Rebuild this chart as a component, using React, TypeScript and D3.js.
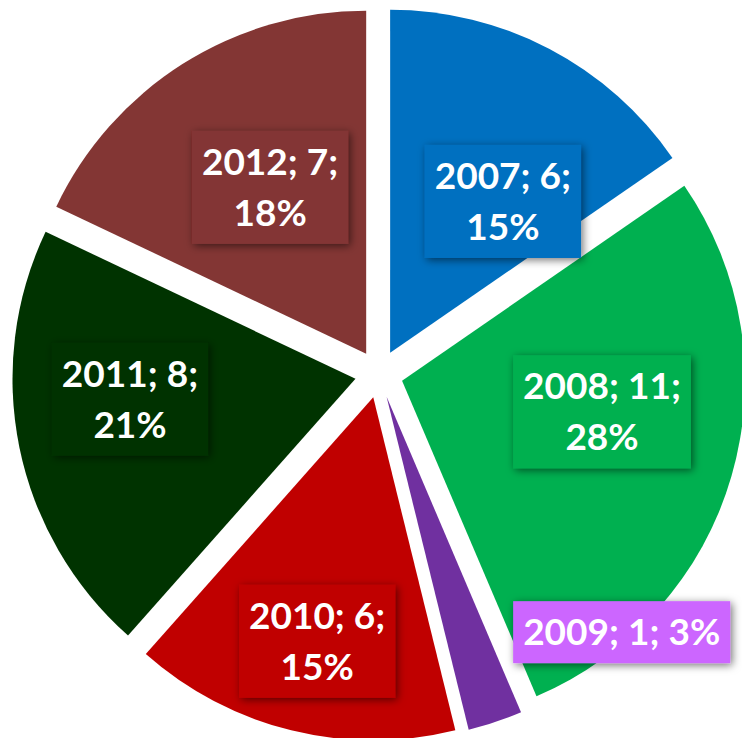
import { useEffect, useRef } from 'react';
import * as d3 from 'd3';

const years = ['2007', '2008', '2009', '2010', '2011', '2012'];
const counts = [6, 11, 1, 6, 8, 7];
const sliceColors = ['#0070C0', '#00B050', '#7030A0', '#C00000', '#003300', '#833634'];
const labelColors = ['#0070C0', '#00B050', '#CC66FF', '#C00000', '#003300', '#833634'];

const width = 742;
const height = 738;

export default function App() {
    const svgRef = useRef<SVGSVGElement>(null);

    useEffect(() => {
        if (!svgRef.current) return;
        const svg = d3.select(svgRef.current);
        svg.selectAll('*').remove();

        const cx = 379;
        const cy = 374;
        const radius = 343;
        const explode = 24;
        const total = d3.sum(counts);
        const pct = d3.format('.0%');

        const defs = svg.append('defs');
        defs.append('filter')
            .attr('id', 'boxShadow')
            .attr('x', '-30%').attr('y', '-30%')
            .attr('width', '160%').attr('height', '160%')
            .append('feDropShadow')
            .attr('dx', 2).attr('dy', 2)
            .attr('stdDeviation', 4)
            .attr('flood-color', '#000')
            .attr('flood-opacity', 0.55);

        const rows = years.map((year, i) => ({ year, value: counts[i], i }));

        const pie = d3.pie<typeof rows[number]>()
            .sort(null)
            .value(d => d.value)
            .startAngle(0)
            .endAngle(2 * Math.PI);

        const arcs = pie(rows);
        const arc = d3.arc<d3.PieArcDatum<typeof rows[number]>>()
            .innerRadius(0)
            .outerRadius(radius);

        const offset = (a: d3.PieArcDatum<typeof rows[number]>) => {
            const mid = (a.startAngle + a.endAngle) / 2;
            return [Math.sin(mid) * explode, -Math.cos(mid) * explode];
        };

        const g = svg.append('g').attr('transform', `translate(${cx},${cy})`);

        // Exploded slices
        g.selectAll('path.slice')
            .data(arcs)
            .join('path')
            .attr('class', 'slice')
            .attr('d', arc)
            .attr('fill', d => sliceColors[d.data.i])
            .attr('transform', d => {
                const [dx, dy] = offset(d);
                return `translate(${dx},${dy})`;
            });

        // Label placement (fraction of radius, angle nudge in degrees)
        const labelRadius = [0.55, 0.59, 0.97, 0.73, 0.66, 0.56];
        const labelNudge = [9, -7.3, -26.5, -0.9, 6.4, 2.3];
        const lineH = 51;
        const fontSize = 37;

        arcs.forEach(a => {
            const i = a.data.i;
            const [dx, dy] = offset(a);
            const mid = (a.startAngle + a.endAngle) / 2 + (labelNudge[i] * Math.PI) / 180;
            const r = radius * labelRadius[i];
            const lx = dx + Math.sin(mid) * r;
            const ly = dy - Math.cos(mid) * r;

            const share = pct(a.data.value / total);
            const lines = a.data.value / total < 0.05
                ? [`${a.data.year}; ${a.data.value}; ${share}`]
                : [`${a.data.year}; ${a.data.value};`, share];

            const lg = g.append('g').attr('transform', `translate(${lx},${ly})`);
            const rect = lg.append('rect').attr('fill', labelColors[i]).attr('filter', 'url(#boxShadow)');
            const text = lg.append('text')
                .attr('text-anchor', 'middle')
                .attr('fill', '#fff')
                .attr('font-family', 'Lato, "Open Sans", sans-serif')
                .attr('font-weight', 700)
                .attr('font-size', fontSize);

            lines.forEach((line, k) => {
                text.append('tspan')
                    .attr('x', 0)
                    .attr('y', (k - (lines.length - 1) / 2) * lineH + 13)
                    .text(line);
            });

            const w = (text.node() as SVGTextElement).getBBox().width + 20;
            const h = lines.length * lineH + 11;
            rect.attr('x', -w / 2).attr('y', -h / 2).attr('width', w).attr('height', h);
        });
    }, []);

    return (
        <svg
            ref={svgRef}
            width={width}
            height={height}
            style={{ position: 'absolute', left: 0, top: 0, background: '#fff' }}
        />
    );
}
